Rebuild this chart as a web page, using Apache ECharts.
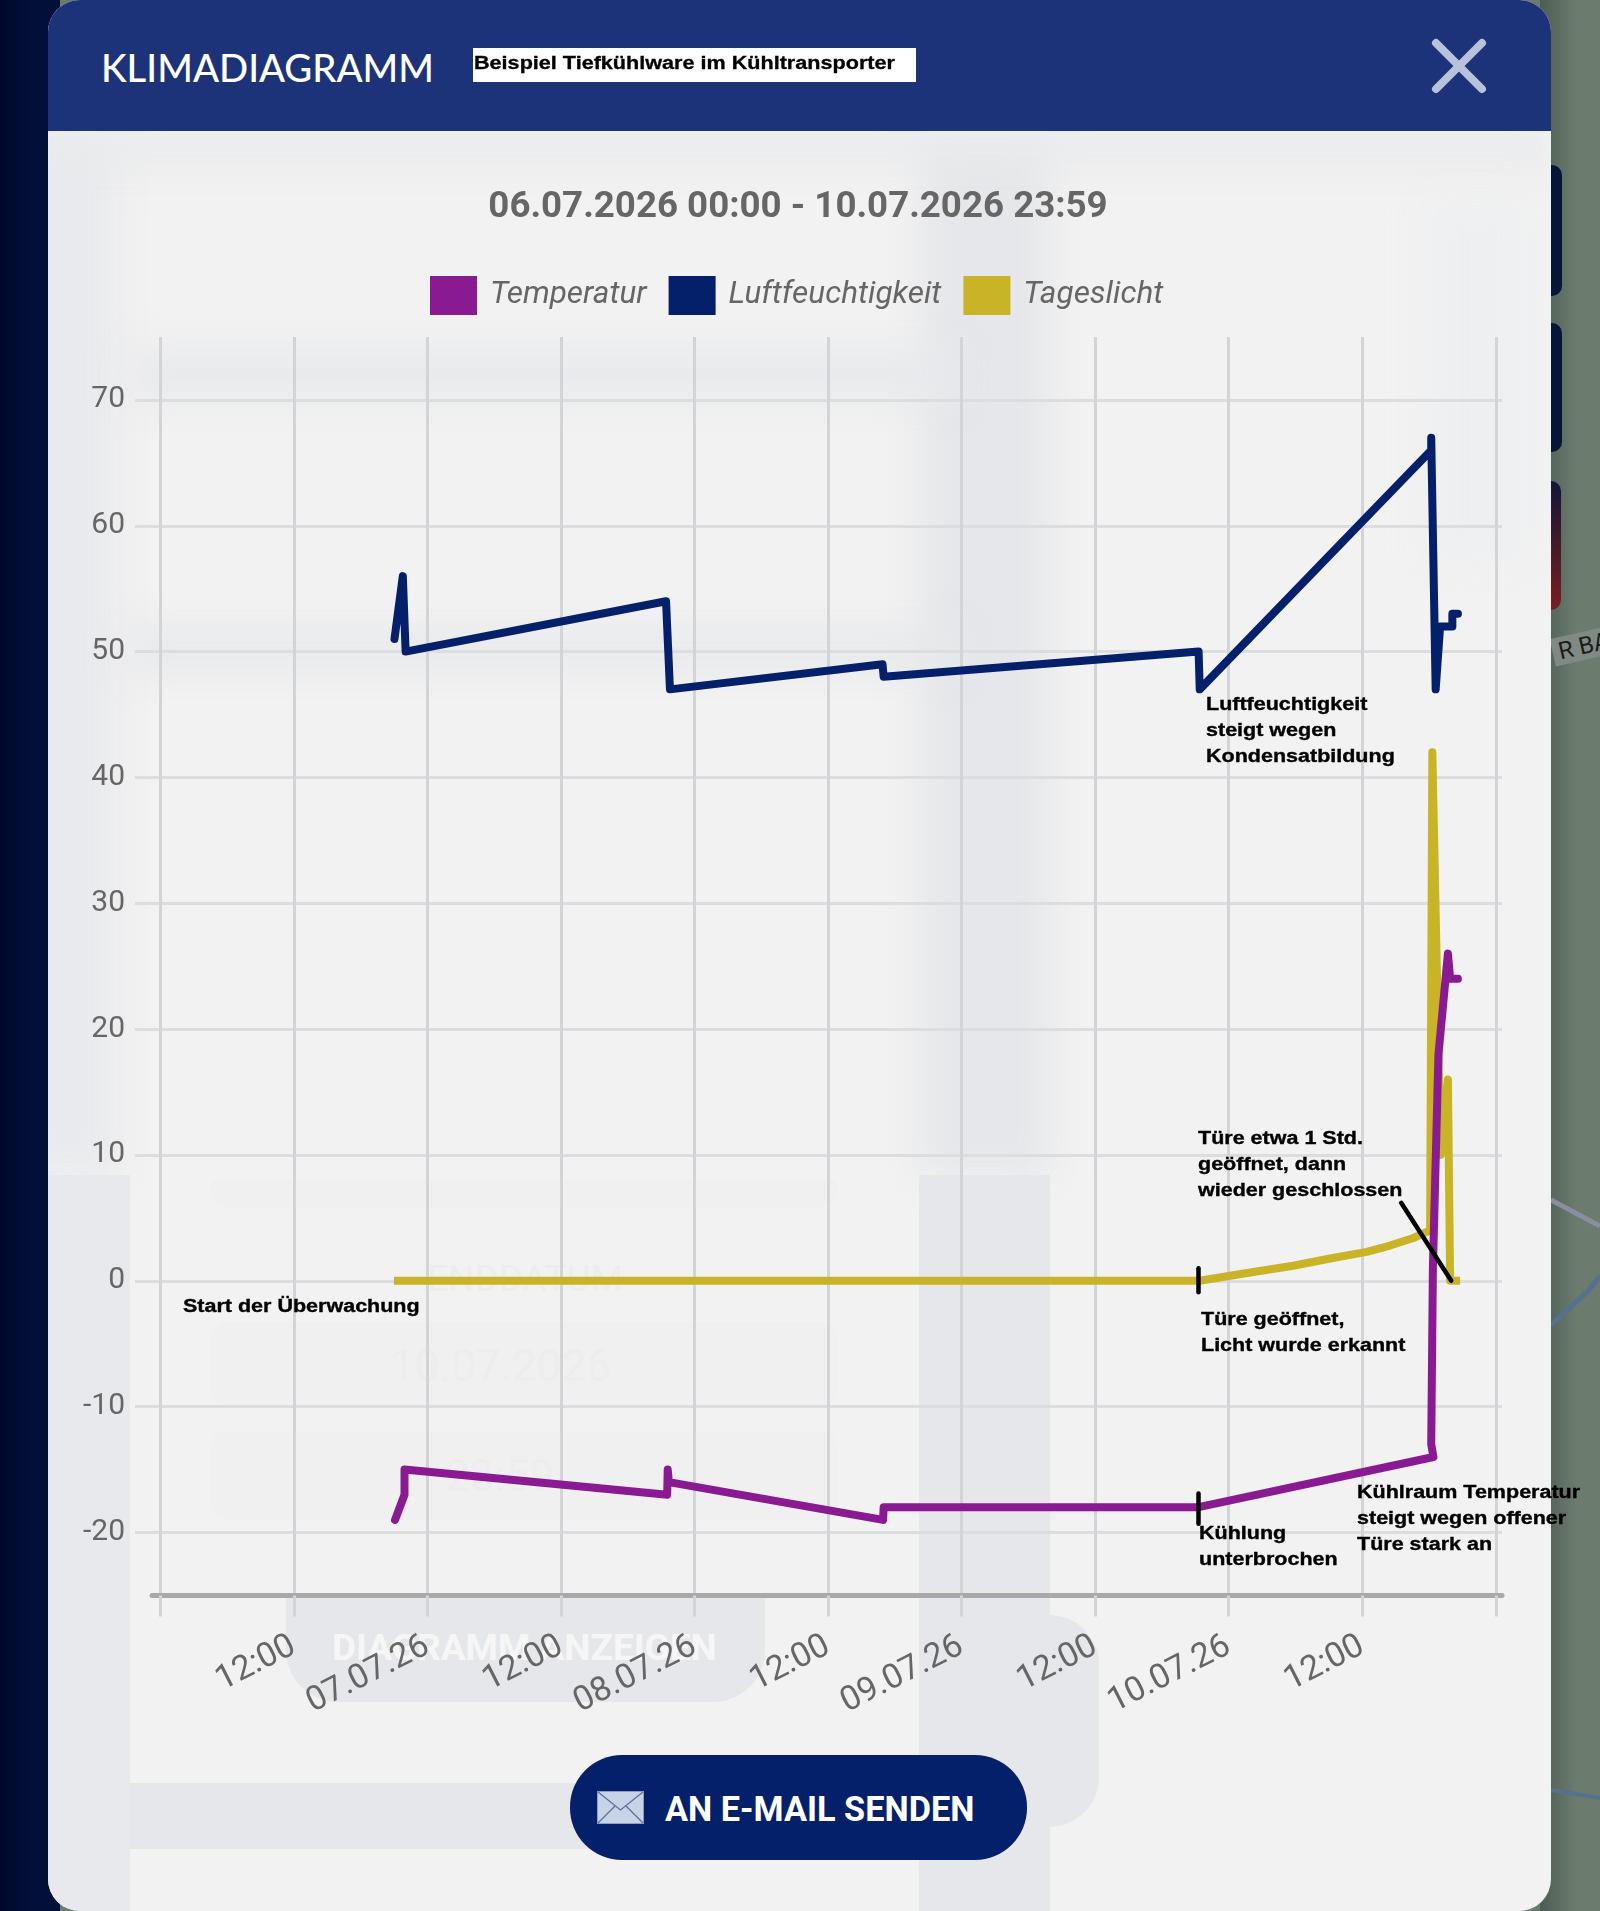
<!DOCTYPE html>
<html lang="de"><head><meta charset="utf-8"><title>Klimadiagramm</title>
<script src="https://cdn.jsdelivr.net/npm/echarts@6/dist/echarts.min.js"></script>
<style>
html,body{margin:0;padding:0;width:1600px;height:1911px;overflow:hidden;background:#6b7b6e;font-family:Roboto,sans-serif}
.abs{position:absolute}
#left{left:0;top:0;width:60px;height:1911px;background:linear-gradient(90deg,#00092c,#020f38 60%)}
#right{left:1540px;top:0;width:60px;height:1911px;background:linear-gradient(90deg,#4e5d54,#6b7b6e 60%)}
#modal{left:48px;top:0;width:1503px;height:1911px;background:#f2f2f2;border-radius:32px;overflow:hidden}
#head{left:0;top:0;width:1503px;height:131px;background:#1d3379}
#klima{left:53px;top:44px;color:#fff;font:500 38.3px Lato,sans-serif;white-space:nowrap}
#box{left:425px;top:48px;width:443px;height:34px;background:#fff}
#box span{position:absolute;left:1px;top:0;color:#000;font:bold 18px "Liberation Sans",sans-serif;line-height:30px;white-space:nowrap;transform:scaleX(1.2);transform-origin:0 50%;-webkit-text-stroke:.3px #000}
.b{background:#e6e7eb}
.blur{filter:blur(18px)}
.ghost{color:#ededee;white-space:nowrap;font-family:Roboto,sans-serif}
#btn{left:570px;top:1755px;width:457px;height:105px;background:#04206b;border-radius:52px;color:#fff;font:bold 34.3px Roboto,sans-serif;line-height:108px;white-space:nowrap}
#btn span{position:absolute;left:95px}
</style></head><body>
<div class="abs" id="left"></div><div class="abs" id="right"></div>
<div class="abs" style="left:1551px;top:165px;width:11px;height:131px;background:#071539;border-radius:0 10px 10px 0"></div>
<div class="abs" style="left:1551px;top:323px;width:11px;height:129px;background:#071539;border-radius:0 10px 10px 0"></div>
<div class="abs" style="left:1551px;top:481px;width:10px;height:129px;background:linear-gradient(180deg,#101638,#7a1e1e);border-radius:0 10px 10px 0"></div>
<div class="abs" style="left:1552px;top:632px;color:#1c1c1c;font:24px Roboto;background:#7f8a84;padding:0 6px;transform:rotate(-13deg);white-space:nowrap;width:50px;overflow:hidden">R BAHN</div>
<svg class="abs" style="left:1551px;top:0" width="49" height="1911">
<path d="M0 1200L49 1226" stroke="#8a8ea0" stroke-width="5" fill="none"/>
<path d="M0 1325L36 1292L49 1276" stroke="#56708f" stroke-width="5" fill="none"/>
<path d="M0 1790L49 1798" stroke="#56708f" stroke-width="4" fill="none"/>
</svg>
<div class="abs" id="modal">
  <div class="abs blur" style="left:872px;top:130px;width:130px;height:1045px;background:#e6e7ea"></div>
  <div class="abs blur" style="left:-30px;top:130px;width:100px;height:1045px;background:#e9eaed"></div>
  <div class="abs blur" style="left:80px;top:350px;width:830px;height:50px;background:#e8e9ec"></div>
  <div class="abs blur" style="left:80px;top:630px;width:830px;height:40px;background:#e7e8eb"></div>
  <div class="abs blur" style="left:0;top:130px;width:1503px;height:35px;background:#e9eaec"></div>
  <div class="abs blur" style="left:1380px;top:200px;width:100px;height:360px;background:#eeeff1"></div>
  <div class="abs" style="left:0;top:1175px;width:82px;height:736px;background:#e8e9ec"></div>
  <div class="abs b" style="left:871px;top:1175px;width:131px;height:736px"></div>
  <div class="abs b" style="left:82px;top:1783px;width:480px;height:66px"></div>
  <div class="abs b" style="left:871px;top:1615px;width:180px;height:212px;border-radius:0 50px 50px 0"></div>
  <div class="abs b" style="left:238px;top:1597px;width:479px;height:105px;border-radius:0 0 52px 52px"></div>
  <div class="abs" style="left:163px;top:1180px;width:626px;height:27px;background:#f0f0f1;border-radius:0 0 16px 16px"></div>
  <div class="abs" style="left:163px;top:1322px;width:626px;height:83px;background:#f0f0f1;border-radius:16px"></div>
  <div class="abs" style="left:163px;top:1431px;width:626px;height:88px;background:#f0f0f1;border-radius:16px"></div>
  <div class="abs ghost" style="left:379px;top:1257px;font-size:37px">ENDDATUM</div>
  <div class="abs ghost" style="left:342px;top:1340px;font-size:44px">10.07.2026</div>
  <div class="abs ghost" style="left:397px;top:1450px;font-size:44px">23:59</div>
  <div class="abs" style="left:284px;top:1626px;color:#f6f6f7;font:bold 37px Roboto;white-space:nowrap">DIAGRAMM ANZEIGEN</div>
  <div class="abs" id="head">
    <div class="abs" id="klima">KLIMADIAGRAMM</div>
    <div class="abs" id="box"><span>Beispiel Tiefkühlware im Kühltransporter</span></div>
    <svg class="abs" style="left:1381px;top:36px" width="60" height="60"><path d="M7 7L53 53M53 7L7 53" stroke="#b9c2dc" stroke-width="8" stroke-linecap="round"/></svg>
  </div>
</div>
<div class="abs" id="btn">
  <svg class="abs" style="left:27px;top:36px" width="47" height="33"><rect x=".5" y=".5" width="46" height="32" fill="#c8d3e8" stroke="#8f9dc0"/><path d="M1 1L23.5 19L46 1M1 32L18 15M46 32L29 15" fill="none" stroke="#5e6f9f" stroke-width="1.3"/></svg>
  <span>AN E-MAIL SENDEN</span>
</div>
<div id="chart" class="abs" style="left:0;top:0;width:1600px;height:1911px"></div>
<script>
// Stunden seit 06.07.2026 00:00
const seriesNames = ['Temperatur','Luftfeuchtigkeit','Tageslicht'];
const temperaturHours = [21.1,21.95,21.95,45.55,45.6,45.7,64.95,65.0,93.2,114.4,114.2,114.35,114.85,115.7,115.9,116.6];
const temperaturValues = [-19,-17,-15,-17,-15,-16,-19,-18,-18,-14,-13,1,18,26,24,24];
const feuchteHours = [21.05,21.8,22.05,45.45,45.8,64.9,65.0,93.3,93.4,114.2,114.2,114.6,115.0,116.1,116.1,116.6];
const feuchteValues = [51,56,50,54,47,49,48,50,47,66,67,47,52,52,53,53];
const lichtHours = [21.0,93.4,97.5,101.8,105,108.4,110.5,112.6,114.1,114.3,115.05,115.7,115.9,116.8];
const lichtValues = [0,0,0.6,1.2,1.75,2.3,2.8,3.4,4,42,10,16,0,0];
const xTicks = [0,12,24,36,48,60,72,84,96,108,120];
const xLabelHours = [12,24,36,48,60,72,84,96,108];
const xLabelTexts = ['12:00','07.07.26','12:00','08.07.26','12:00','09.07.26','12:00','10.07.26','12:00'];
const yTicks = [-20,-10,0,10,20,30,40,50,60,70];
const colors = ['#8a1a91','#04206b','#c9b428'];
const notes = [
  ['Start der Überwachung',183,1307],
  ['Luftfeuchtigkeit\nsteigt wegen\nKondensatbildung',1206,731],
  ['Türe etwa 1 Std.\ngeöffnet, dann\nwieder geschlossen',1198,1165],
  ['Türe geöffnet,\nLicht wurde erkannt',1201,1333],
  ['Kühlung\nunterbrochen',1199,1547],
  ['Kühlraum Temperatur\nsteigt wegen offener\nTüre stark an',1357,1519]
];
const pair = (h,v)=>h.map((x,i)=>[x,v[i]]);
const gridH='#dcdddf', gridV='#d3d4d7';
const mk=(a,b)=>[{coord:a},{coord:b}];
const chart = echarts.init(document.getElementById('chart'),null,{renderer:'canvas'});
chart.setOption({
  animation:false,
  backgroundColor:'transparent',
  color:colors,
  title:{text:'06.07.2026 00:00 - 10.07.2026 23:59',left:793,top:184,textAlign:'center',
    textStyle:{fontFamily:'Roboto',fontWeight:'bold',fontSize:36.7,color:'#666'}},
  legend:{left:430,top:276,padding:0,itemWidth:47,itemHeight:39,itemGap:22,icon:'rect',selectedMode:false,data:seriesNames,
    textStyle:{fontFamily:'Roboto',fontStyle:'italic',fontSize:31.5,color:'#666',padding:[4,0,0,8]}},
  grid:{left:152,right:98,top:337,bottom:315.6},
  xAxis:{type:'value',min:-0.737,max:120.56,
    axisLine:{onZero:false,lineStyle:{color:'#a9a9a9',width:5}},
    axisTick:{customValues:xTicks,length:21,lineStyle:{color:gridV,width:3}},
    splitLine:{show:true,lineStyle:{color:gridV,width:3}},
    axisLabel:{customValues:xLabelHours,rotate:27,margin:49,fontFamily:'Roboto',fontSize:34,color:'#666',
      formatter:v=>xLabelTexts[xLabelHours.indexOf(v)]||''}},
  yAxis:{type:'value',min:-25,max:75,
    axisLine:{show:false,onZero:false},
    axisTick:{show:true,customValues:yTicks,length:17,lineStyle:{color:gridH,width:3}},
    splitLine:{show:true,lineStyle:{color:gridH,width:3}},
    axisLabel:{customValues:yTicks,margin:27,padding:[9,0,0,0],fontFamily:'Roboto',fontSize:30,color:'#666'}},
  series:[
    {name:seriesNames[0],type:'line',z:4,showSymbol:false,data:pair(temperaturHours,temperaturValues),
     lineStyle:{width:8,color:colors[0],cap:'round',join:'round'},itemStyle:{color:colors[0]},
     markLine:{silent:true,symbol:'none',animation:false,label:{show:false},lineStyle:{color:'#000',width:4.5,type:'solid',cap:'round'},
       data:[mk([93.3,-16.9],[93.3,-19.3]),mk([93.3,1],[93.3,-0.9]),mk([111.5,6.2],[116,0])]}},
    {name:seriesNames[1],type:'line',z:3,showSymbol:false,data:pair(feuchteHours,feuchteValues),
     lineStyle:{width:8,color:colors[1],cap:'round',join:'round'},itemStyle:{color:colors[1]}},
    {name:seriesNames[2],type:'line',z:2,showSymbol:false,data:pair(lichtHours,lichtValues),
     lineStyle:{width:8,color:colors[2],join:'round'},itemStyle:{color:colors[2]}}
  ],
  graphic:notes.map(n=>({type:'text',x:n[1],y:n[2],z:10,silent:true,scaleX:1.195,originX:0,
    style:{text:n[0],fontFamily:'Liberation Sans',fontWeight:'bold',fontSize:18,lineHeight:26,fill:'#000',stroke:'#000',lineWidth:.35,verticalAlign:'middle'}}))
});
</script>
</body></html>
